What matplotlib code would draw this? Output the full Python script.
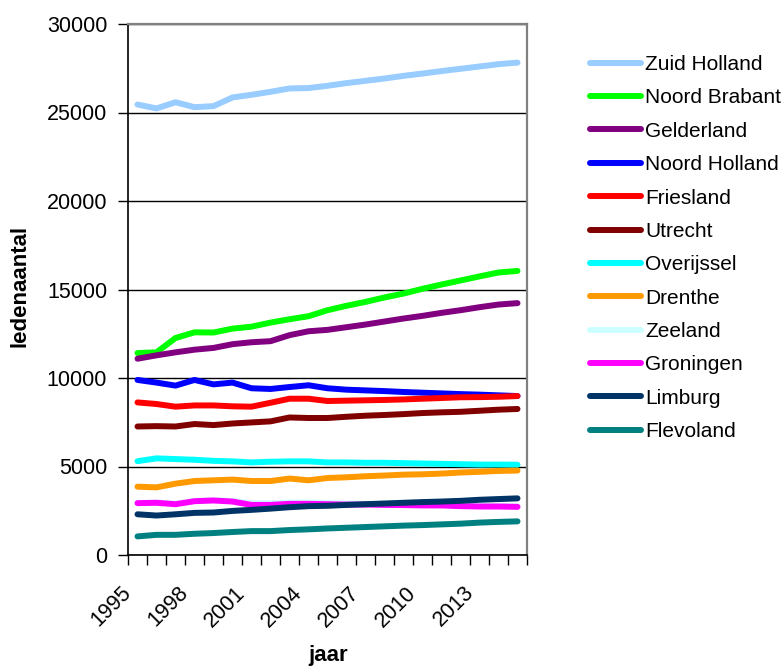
"""Lijngrafiek van het ledenaantal per provincie, 1995-2015."""

import matplotlib

matplotlib.use("Agg")
import matplotlib.pyplot as plt
from matplotlib.ticker import FixedLocator, MultipleLocator
from matplotlib.transforms import ScaledTranslation

years = list(range(1995, 2016))
tick_years = ["1995", "1998", "2001", "2004", "2007", "2010", "2013"]

zuid_holland = [25450, 25230, 25580, 25300, 25360, 25850, 26000, 26170, 26360, 26380,
                26510, 26660, 26790, 26920, 27070, 27200, 27340, 27470, 27600, 27730, 27820]
noord_brabant = [11410, 11450, 12260, 12580, 12570, 12790, 12900, 13130, 13320, 13490,
                 13830, 14080, 14300, 14550, 14770, 15040, 15280, 15510, 15740, 15960, 16050]
gelderland = [11090, 11280, 11450, 11600, 11700, 11910, 12020, 12080, 12420, 12640,
              12720, 12870, 13020, 13190, 13360, 13510, 13680, 13830, 14000, 14150, 14230]
noord_holland = [9890, 9740, 9570, 9890, 9640, 9740, 9420, 9380, 9490, 9590,
                 9420, 9340, 9300, 9260, 9210, 9170, 9130, 9090, 9060, 9020, 8980]
friesland = [8620, 8530, 8380, 8450, 8450, 8400, 8380, 8600, 8830, 8830,
             8700, 8720, 8740, 8760, 8790, 8830, 8870, 8910, 8920, 8940, 8980]
utrecht = [7260, 7280, 7260, 7400, 7340, 7430, 7490, 7550, 7770, 7740,
           7740, 7810, 7870, 7910, 7960, 8020, 8060, 8090, 8150, 8210, 8250]
overijssel = [5300, 5460, 5420, 5380, 5320, 5290, 5230, 5270, 5290, 5290,
              5230, 5230, 5210, 5210, 5190, 5170, 5150, 5130, 5110, 5110, 5100]
drenthe = [3860, 3820, 4030, 4180, 4220, 4260, 4180, 4180, 4320, 4220,
           4350, 4390, 4450, 4490, 4540, 4560, 4600, 4660, 4700, 4750, 4770]
zeeland = [2940, 2960, 2900, 3060, 3100, 3060, 2920, 2930, 2960, 2970,
           2940, 2910, 2890, 2870, 2850, 2830, 2820, 2790, 2770, 2760, 2750]
groningen = [2930, 2950, 2870, 3040, 3080, 3020, 2830, 2830, 2890, 2890,
             2870, 2850, 2850, 2830, 2820, 2800, 2800, 2760, 2740, 2740, 2720]
limburg = [2300, 2230, 2300, 2380, 2400, 2490, 2550, 2620, 2700, 2760,
           2780, 2830, 2870, 2910, 2950, 2990, 3020, 3060, 3120, 3160, 3200]
flevoland = [1050, 1140, 1140, 1200, 1240, 1300, 1350, 1350, 1410, 1450,
             1500, 1540, 1580, 1620, 1660, 1690, 1730, 1770, 1830, 1870, 1900]

provinces = ["Zuid Holland", "Noord Brabant", "Gelderland", "Noord Holland",
             "Friesland", "Utrecht", "Overijssel", "Drenthe", "Zeeland",
             "Groningen", "Limburg", "Flevoland"]
series = [zuid_holland, noord_brabant, gelderland, noord_holland, friesland,
          utrecht, overijssel, drenthe, zeeland, groningen, limburg, flevoland]
colors = ["#99CCFF", "#00FF00", "#800080", "#0000FF", "#FF0000", "#800000",
          "#00FFFF", "#FF9900", "#CCFFFF", "#FF00FF", "#003366", "#008080"]


def make_chart(output_filename):
    """Tekent de lijnen per provincie en slaat de figuur op."""
    plt.rcParams["font.family"] = ["Liberation Sans", "DejaVu Sans"]

    fig = plt.figure(figsize=(7.82, 6.68), dpi=100)
    ax = fig.add_axes([128 / 782, 1 - 555 / 668, 399 / 782, 531 / 668])

    # Excel zet de punten in het midden van elke categorie.
    positions = list(range(len(years)))
    for name, values, color in zip(provinces, series, colors):
        ax.plot(positions, values, color=color, linewidth=4.3, label=name,
                solid_capstyle="round", solid_joinstyle="round")

    ax.set_xlim(-0.5, len(years) - 0.5)
    ax.set_ylim(0, 30000)
    ax.yaxis.set_major_locator(MultipleLocator(5000))
    ax.grid(axis="y", color="black", linewidth=1)
    ax.set_axisbelow(True)

    # Streepjes op de grenzen tussen de jaren, labels om de drie jaar.
    ax.xaxis.set_minor_locator(FixedLocator([p - 0.5 for p in range(len(years) + 1)]))
    ax.set_xticks([years.index(int(y)) for y in tick_years])
    ax.tick_params(axis="x", which="major", length=0, pad=25)
    ax.tick_params(axis="x", which="minor", length=7, width=1, direction="out")
    ax.tick_params(axis="y", length=7, width=1, direction="out", labelsize=15.5, pad=8)
    ax.set_xticklabels(tick_years, rotation=45, ha="right", va="center",
                       rotation_mode="anchor", fontsize=15.5)
    # tick_params zet de transform terug, dus de verschuiving pas daarna
    shift = ScaledTranslation(-9 / 100, 0, fig.dpi_scale_trans)
    for label in ax.get_xticklabels():
        label.set_transform(label.get_transform() + shift)

    for side in ["left", "bottom"]:
        ax.spines[side].set_color("black")
        ax.spines[side].set_linewidth(1.2)
    for side in ["top", "right"]:
        ax.spines[side].set_color("#808080")
        ax.spines[side].set_linewidth(1.6)

    fig.text(20 / 782, 1 - 286 / 668, "ledenaantal", rotation=90, ha="center",
             va="center", fontsize=16, fontweight="bold")
    fig.text(328 / 782, 1 - 655 / 668, "jaar", ha="center", va="center",
             fontsize=16, fontweight="bold")

    fig.legend(loc="upper left", bbox_to_anchor=(590 / 782, 1 - 55 / 668),
               frameon=False, fontsize=15, handlelength=2.45, handletextpad=0.2,
               labelspacing=0.69, borderpad=0, borderaxespad=0)

    fig.savefig(output_filename, dpi=100)


def main():
    """Maakt out.png."""
    make_chart("out.png")


if __name__ == "__main__":
    main()
